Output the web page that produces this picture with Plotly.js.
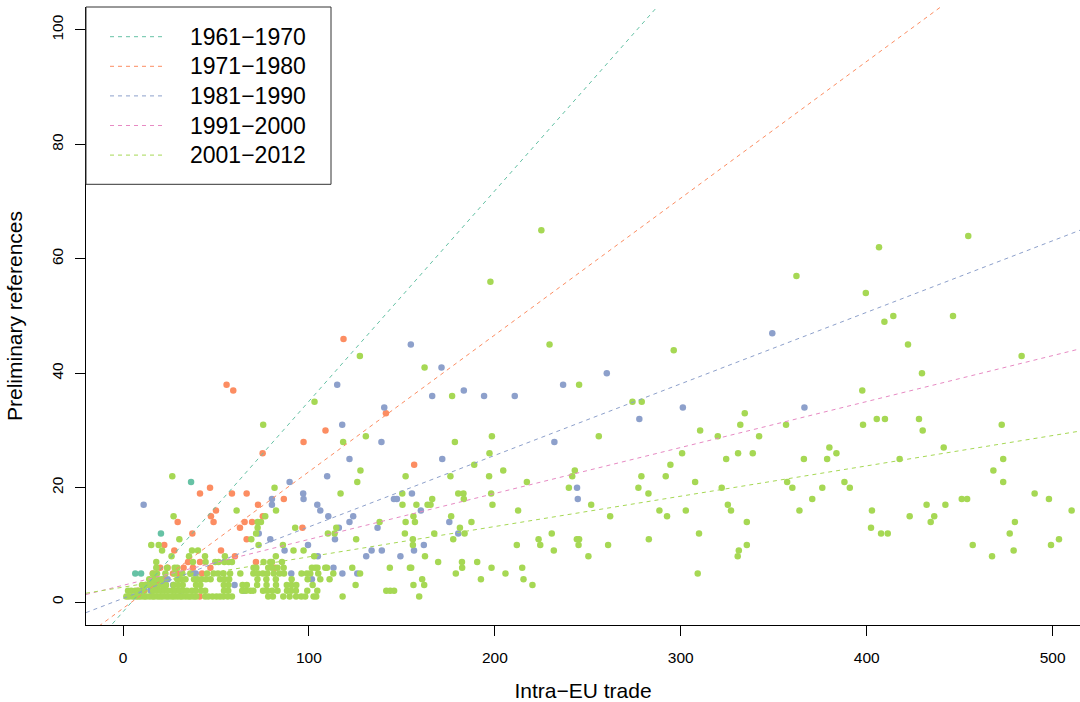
<!DOCTYPE html>
<html><head><meta charset="utf-8">
<script src="https://cdn.plot.ly/plotly-3.0.1.min.js"></script>
<style>html,body{margin:0;padding:0;background:#fff}#chart{width:1080px;height:702px}</style>
</head><body><div id="chart"></div>
<script>
// ---------- data ----------
const periods = ['1961\u22121970','1971\u22121980','1981\u22121990','1991\u22122000','2001\u22122012'];
const colors = ['#66C2A5','#FC8D62','#8DA0CB','#E78AC3','#A6D854'];
// fitted regression lines (intercept, slope) per period
const intercepts = [-1.7, -1.1, 0.65, 2.93, 2.61];
const slopes = [0.368, 0.239, 0.125, 0.0803, 0.053];

const xTicks = [0,100,200,300,400,500];
const yTicks = [0,20,40,60,80,100];
const xTitle = 'Intra\u2212EU trade';
const yTitle = 'Preliminary references';

const pts1961 = [[36.6,21],[20.4,12],[6.6,5],[9.7,5],[12.5,3],[17.9,3],[17,4]];

const pts1971 = [[118.6,46],[141.4,33],[108.9,30],[97.1,28],[156.6,24],[96.5,13],[75.1,26],[55.7,38],[59.3,37],
 [41.4,19],[46.8,20],[58.6,19],[66.5,19],[50,16],[47.3,15],[48.7,14],[29.4,14],[72.6,17],[86.5,18],[62.9,13],
 [65.4,14],[69.4,14],[37.3,12],[75.2,15],[66.5,11],[52.7,9],[60.2,8],[71.5,7],[81.7,6],[22.2,10],[27.6,9],
 [35,7],[41.4,7],[32.6,6],[16,5],[26.9,5],[29.9,5],[42.5,5],[20,6],[24,6],[37.6,6],[47,6],[41.2,1],[18,4],
 [23,3],[8,2],[12,3]];

const pts1981 = [[154.8,45],[171.3,41],[115.2,38],[183.3,37],[166.3,36],[194.2,36],[210.7,36],[140.5,34],[117.9,31],
 [139,28],[121.8,25],[171.7,25],[109.8,22],[96.9,19],[97.1,18],[155.4,19],[145.7,18],[147.3,18],[104.5,17],
 [106.1,16],[160.2,16],[110.4,15],[123.8,15],[121.8,14],[116.1,13],[136.9,13],[114,11],[180.3,12],[175.5,14],
 [99.5,10],[161.8,10],[133.7,9],[139.2,9],[156.5,9],[104.8,8],[130.8,8],[149.2,8],[113.2,6],[118,5],[126,5],
 [101.6,4],
 [349.2,47],[260.2,40],[236.7,38],[301.1,34],[277.7,32],[366.5,34],[232,28],[244.2,20],[244.6,18],
 [11.1,17],[80.1,18],[80.1,17],[89.6,21],[73,12],[79.2,11],[86.9,9],[90.5,5],[39.1,5],
 [10,2],[15,2],[17.4,3],[22,4],[24,4],[27,3],[31,2],[60,3],[65,2]];

const pts1991 = [];

const pts2001 = [
 [225,65],[197.6,56],
 [229.4,45],[127.4,43],[162.2,41],[177.0,36],[103,35],[130.6,29],[118.4,28],[178.5,28],[198.4,29],[197.1,26],
 [188.9,24],[127.7,23],[152,22],[176.1,22],[196.9,22],[204.5,23],[126,21],[217.2,21],[117,19],[150.2,19],
 [180.3,19],[183.1,19],[198,19],[166.3,18],[183.3,18],[150.3,17],[157.8,17],[163.8,17],[165.4,17],[198.7,17],
 [212.5,16],[156.2,15],[176.5,15],[114.7,13],[138,14],[152,14],[157,14],[187.4,14],[181.2,13],[110.2,12],
 [113.8,12],[125.4,11],[151.6,12],[167.4,12],[183.7,12],[155.9,11],[177.6,11],[97.1,9],[155.9,10],[211.8,10],
 [223.5,11],[102.8,8],[162.4,8],[169.5,7],[182.3,7],[190.5,7],
 [101.6,6],[103.4,6],[104.6,6],[108.8,6],[109.7,6],[123.3,6],[143.5,6],[154.3,6],[155,6],[182.4,6],[198.2,6],[214.7,6],
 [96,5],[98.9,5],[100.7,5],[105,5],[113.1,5],[127.5,5],[179,5],[205.7,5],
 [99.3,4],[106.1,4],[111.1,4],[160.9,4],[192.5,4],[215.4,4],
 [102,3],[125.1,3],[156.2,3],[162,3],[220.2,3],
 [99.1,2],[104.5,2],[141.6,2],[143.7,2],[145.8,2],
 [95.9,1],[98,1],[102.5,1],[103.9,1],[118.1,1],[159.3,1],
 [362.2,57],[296.2,44],[245.3,38],[274,35],[279,35],[255.9,29],[334.4,33],[332,31],[356.6,31],[310.4,30],
 [319.9,29],[342.1,29],[300.7,26],[324.4,25],[330.8,26],[338.7,26],[366.2,25],[243,23],[241.6,22],[294.4,24],
 [278.8,22],[291.9,22],[239.8,20],[277.2,20],[282.6,19],[307.7,21],[322,20],[357.2,21],[360,20],[370.7,18],
 [251.8,17],[288.5,16],[302.7,16],[292.6,15],[262,15],[325.3,17],[327,16],[363.8,16],[335.5,14],[230.6,12],
 [309.8,12],[244.1,11],[245.3,11],[282.8,11],[224.4,10],[245,10],[260.9,10],[335.5,10],[231.7,9],[331.2,9],
 [250.3,8],[330.6,8],[309.1,5],
 [454.6,64],[406.6,62],[399.5,54],[414.3,50],[409.5,49],[446.4,50],[422.2,45],[483.3,43],[429.7,40],[397.6,37],
 [398,31],[405.4,32],[409.8,32],[428.1,32],[430.1,30],[472.6,31],[379.9,27],[383.7,26],[378.7,25],[417.7,25],
 [441.4,27],[473.4,25],[468.1,23],[473.4,21],[388,21],[390.9,20],[376.1,20],[402.8,16],[432.2,17],[442.3,17],
 [451.1,18],[454,18],[490.3,19],[498,18],[510.2,16],[423.1,15],[436.3,15],[434.4,14],[402.3,13],[479.7,14],
 [407.7,12],[411.3,12],[476.9,12],[503.4,11],[499.1,10],[457,10],[479,9],[467.4,8],
 [1.8,1],[3.2,1],[5.1,1],[6.9,1],[8.2,1],[9.6,1],[11.3,1],[12.4,1],[14.2,1],[15.8,1],[16.9,1],[18.7,1],[20.1,1],
 [21.4,1],[23.2,1],[24.6,1],[26.3,1],[27.5,1],[29.1,1],[30.7,1],[31.9,1],[33.6,1],[35.2,1],[36.4,1],[38.1,1],
 [39.4,1],[44.2,1],[45.9,1],[48.1,1],[50.3,1],[52.2,1],[54.0,1],[56.3,1],[58.6,1],[78.1,1],[80.6,1],[86.2,1],
 [89.6,1],[93.1,1],
 [2.7,2],[4.4,2],[6.6,2],[8.1,2],[11.6,2],[16.2,2],[18.1,2],[20.3,2],[22.2,2],[24.1,2],[26.4,2],[28.2,2],[30.3,2],
 [32.6,2],[34.4,2],[37.1,2],[39.2,2],[42.1,2],[44.2,2],[54.3,2],[56.6,2],[64.1,2],[66.2,2],[68.6,2],[70.1,2],
 [75.3,2],[77.6,2],[80.2,2],[83.1,2],[88.2,2],[90.4,2],[93.0,2],
 [10.2,3],[12.1,3],[14.3,3],[16.6,3],[19.1,3],[21.2,3],[23.1,3],[27.2,3],[29.6,3],[32.1,3],[39.3,3],[41.6,3],
 [54.2,3],[56.7,3],[64.3,3],[66.6,3],[72.1,3],[77.2,3],[82.3,3],[88.1,3],[90.6,3],[93.2,3],
 [14.1,4],[16.2,4],[18.3,4],[20.6,4],[29.2,4],[31.1,4],[33.6,4],[38.2,4],[40.1,4],[42.3,4],[44.6,4],[47.1,4],
 [52.2,4],[54.6,4],[57.1,4],[72.3,4],[77.1,4],[82.2,4],[90.7,4],
 [16.1,5],[18.3,5],[22.8,5],[27.6,5],[31.9,5],[36.2,5],[45.2,5],[48.7,5],[51.1,5],[54.1,5],[57.6,5],[63.1,5],
 [70.1,5],[72.6,5],[75.2,5],[77.6,5],[81.1,5],[84.2,5],[86.6,5],
 [17.9,6],[23.7,6],[27.8,6],[29.2,6],[70.2,6],[71.7,6],[78.1,6],[80.1,6],[83.1,6],[86.4,6],
 [17.9,7],[37.6,7],[44.4,7],[49.6,7],[51.4,7],[54.5,7],[56.8,7],[58.6,7],[75.6,7],[79.2,7],[80.1,7],[85.5,7],
 [26.1,8],[35.5,8],[44.1,8],[54.8,8],[82.2,8],
 [21,9],[37.1,9],[40.3,9],[91.7,9],
 [15.2,10],[19.2,10],[72.9,10],[86,10],
 [30.3,11],[69,11],[71.6,12],[72.4,13],[92.6,13],[72.4,14],[74.2,14],
 [27.2,15],[76.5,15],[61.1,16],[82.3,16],[81.5,20],[26.5,22],[75.4,31]
];

// ---------- layout constants ----------
const W = 1080, H = 702;
const M = {l: 86, r: 0, t: 7, b: 77, pad: 0};
const xRange = [-19.9, 514.7];
const yRange = [-4, 104];
const FONT = 'Liberation Sans, Arial, Helvetica, sans-serif';
const pw = W - M.l - M.r, ph = H - M.t - M.b;
const fx = px => (px - M.l) / pw;
const fy = py => 1 - (py - M.t) / ph;

const traces = [];
[pts1961, pts1971, pts1981, pts1991, pts2001].forEach((pts, i) => {
  if (!pts.length) return;
  traces.push({
    type: 'scatter', mode: 'markers', name: periods[i],
    x: pts.map(p => p[0]), y: pts.map(p => p[1]),
    marker: {color: colors[i], size: 6.5, line: {width: 0}},
    hoverinfo: 'skip', showlegend: false
  });
});
periods.forEach((p, i) => {
  traces.push({
    type: 'scatter', mode: 'lines', name: p,
    x: xRange, y: xRange.map(x => intercepts[i] + slopes[i] * x),
    line: {color: colors[i], width: 1, dash: '4px,4px'},
    hoverinfo: 'skip', showlegend: false
  });
});

// manual legend (box, dashed samples, labels)
const shapes = [{
  type: 'rect', xref: 'paper', yref: 'paper',
  x0: fx(86), x1: fx(331), y0: fy(184.3), y1: fy(7),
  line: {color: '#333', width: 1}, fillcolor: '#fff', layer: 'above'
}];
const annotations = [];
periods.forEach((p, i) => {
  const yy = fy(36.7 + i * 29.6);
  shapes.push({type: 'line', xref: 'paper', yref: 'paper', x0: fx(110), x1: fx(162.3), y0: yy, y1: yy,
    line: {color: colors[i], width: 1, dash: '4px,4px'}, layer: 'above'});
  annotations.push({xref: 'paper', yref: 'paper', x: fx(188.3), y: yy, xanchor: 'left', yanchor: 'middle',
    text: p, showarrow: false, font: {family: FONT, size: 23, color: '#000'}});
});

const layout = {
  width: W, height: H, margin: M,
  paper_bgcolor: '#fff', plot_bgcolor: '#fff',
  font: {family: FONT, color: '#000'},
  showlegend: false,
  xaxis: {
    range: xRange, tickvals: xTicks, ticktext: xTicks.map(String),
    showgrid: false, zeroline: false, showline: true, linecolor: '#000', linewidth: 1,
    ticks: 'outside', ticklen: 10, tickcolor: '#000', tickwidth: 1,
    tickfont: {family: FONT, size: 15.5, color: '#000'}, ticklabelstandoff: 8,
    title: {text: xTitle, font: {family: FONT, size: 21, color: '#000'}, standoff: 18},
    automargin: false
  },
  yaxis: {
    range: yRange, tickvals: yTicks, ticktext: yTicks.map(String), tickangle: -90,
    showgrid: false, zeroline: false, showline: true, linecolor: '#000', linewidth: 1,
    ticks: 'outside', ticklen: 10, tickcolor: '#000', tickwidth: 1,
    tickfont: {family: FONT, size: 15.5, color: '#000'}, ticklabelstandoff: 6,
    title: {text: yTitle, font: {family: FONT, size: 21, color: '#000'}, standoff: 20},
    automargin: false
  },
  shapes: shapes, annotations: annotations
};

Plotly.newPlot('chart', traces, layout, {displayModeBar: false, staticPlot: true});
</script>
</body></html>
